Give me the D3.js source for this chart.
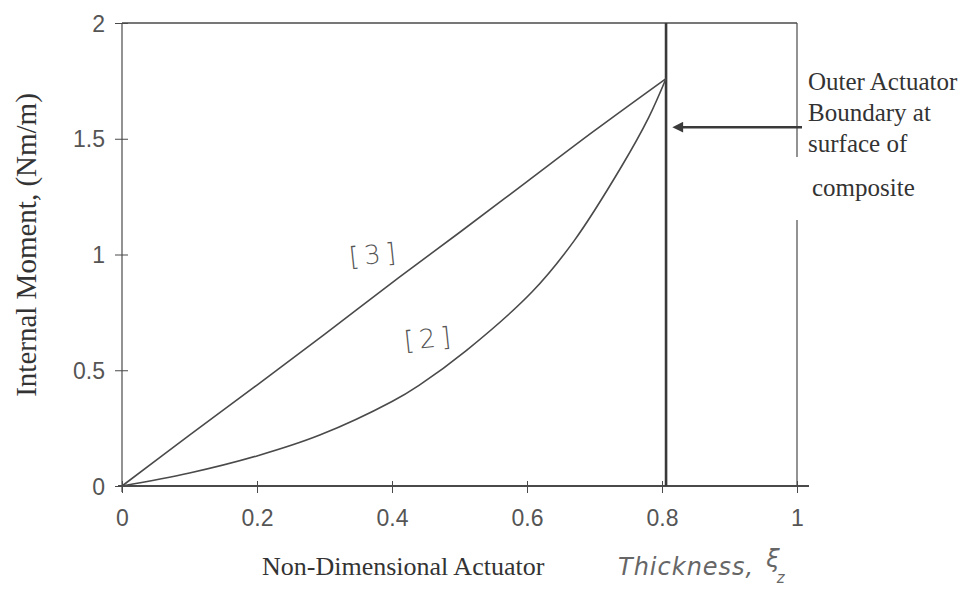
<!DOCTYPE html>
<html>
<head>
<meta charset="utf-8">
<script src="https://cdn.jsdelivr.net/npm/d3@7/dist/d3.min.js"></script>
<style>
  body { margin: 0; background: #fff; }
  svg { display: block; }
</style>
</head>
<body>
<div id="chart"></div>
<script>
// tick values
let xTicks = [0, 0.2, 0.4, 0.6, 0.8, 1];
let yTicks = [0, 0.5, 1, 1.5, 2];

// curve [3] - nearly straight
let thick3 = [0, 0.1, 0.2, 0.3, 0.41, 0.5, 0.6, 0.7, 0.806];
let moment3 = [0, 0.22, 0.436, 0.655, 0.9, 1.095, 1.315, 1.535, 1.76];

// curve [2] - concave up
let thick2 = [0, 0.1, 0.2, 0.293, 0.4, 0.44, 0.51, 0.608, 0.67, 0.74, 0.78, 0.806];
let moment2 = [0, 0.056, 0.13, 0.22, 0.365, 0.435, 0.585, 0.84, 1.06, 1.38, 1.59, 1.76];

let boundaryX = 0.806;
let arrowY = 1.55;

let w = 976;
let h = 600;
let ink = "#4a4a4a";

let svg = d3
  .select("#chart")
  .append("svg")
  .attr("width", w)
  .attr("height", h);

let x = d3.scaleLinear().domain([0, 1]).range([122, 797]);
let y = d3.scaleLinear().domain([0, 2]).range([486, 23]);

// arrow head, tip points along the line direction
svg
  .append("defs")
  .append("marker")
  .attr("id", "head")
  .attr("viewBox", "0 0 10 10")
  .attr("refX", 1)
  .attr("refY", 5)
  .attr("markerWidth", 6)
  .attr("markerHeight", 4.5)
  .attr("markerUnits", "strokeWidth")
  .attr("orient", "auto")
  .append("path")
  .attr("d", "M10,5 L0,0 L0,10 Z")
  .attr("fill", "#3a3a3a");

// frame (top + right, right edge broken where the note sits)
svg
  .append("line")
  .attr("x1", x(0)).attr("x2", x(1))
  .attr("y1", y(2)).attr("y2", y(2))
  .attr("stroke", ink).attr("stroke-width", 1.3);
svg
  .append("line")
  .attr("x1", x(1)).attr("x2", x(1))
  .attr("y1", y(2)).attr("y2", 157)
  .attr("stroke", ink).attr("stroke-width", 1.2);
svg
  .append("line")
  .attr("x1", x(1)).attr("x2", x(1))
  .attr("y1", 220).attr("y2", y(0))
  .attr("stroke", ink).attr("stroke-width", 1.2);

// axes
let sans = "Liberation Sans, Arial, sans-serif";
let xAxis = d3.axisBottom(x).tickValues(xTicks).tickSize(6).tickSizeOuter(0)
  .tickFormat(d => d === 0 || d === 1 ? d : d3.format(".1f")(d));
let gx = svg.append("g").attr("transform", "translate(0," + y(0) + ")").call(xAxis);
gx.select(".domain").attr("d", "M" + (x(0) - 4) + ",0H" + (x(1) + 12)).attr("stroke", ink).attr("stroke-width", 1.8);
gx.selectAll(".tick line").attr("y1", -5).attr("y2", 7).attr("stroke", ink);
gx.selectAll(".tick text")
  .attr("y", 32)
  .attr("dy", "0.35em")
  .attr("font-family", sans)
  .attr("font-size", 23)
  .attr("fill", "#555");

let yAxis = d3.axisLeft(y).tickValues(yTicks).tickSize(6).tickSizeOuter(0)
  .tickFormat(d3.format("~g"));
let gy = svg.append("g").attr("transform", "translate(" + x(0) + ",0)").call(yAxis);
gy.select(".domain").attr("d", "M0," + y(2) + "V" + (y(0) + 6)).attr("stroke", ink).attr("stroke-width", 1.2);
gy.selectAll(".tick line").attr("x1", -7).attr("x2", 6).attr("stroke", ink);
gy.selectAll(".tick text")
  .attr("x", -17)
  .attr("dy", "0.35em")
  .attr("font-family", sans)
  .attr("font-size", 23)
  .attr("fill", "#555");

// outer actuator boundary
svg
  .append("line")
  .attr("x1", x(boundaryX)).attr("x2", x(boundaryX))
  .attr("y1", y(2)).attr("y2", y(0))
  .attr("stroke", "#3a3a3a").attr("stroke-width", 2.6);

// curves
let line = d3.line().curve(d3.curveCatmullRom.alpha(0.5));
svg
  .append("path")
  .attr("d", line(thick3.map((d, i) => [x(d), y(moment3[i])])))
  .attr("fill", "none").attr("stroke", ink).attr("stroke-width", 1.6);
svg
  .append("path")
  .attr("d", line(thick2.map((d, i) => [x(d), y(moment2[i])])))
  .attr("fill", "none").attr("stroke", ink).attr("stroke-width", 1.6);

// arrow to boundary
svg
  .append("line")
  .attr("x1", x(1) + 5).attr("x2", x(boundaryX) + 16)
  .attr("y1", y(arrowY)).attr("y2", y(arrowY))
  .attr("stroke", "#3a3a3a").attr("stroke-width", 2.4)
  .attr("marker-end", "url(#head)");

// curve labels
let hand = "DejaVu Sans, sans-serif";
svg.append("text")
  .attr("transform", "translate(350,266) rotate(-6)")
  .attr("font-family", hand).attr("font-size", 26).attr("font-weight", 200)
  .attr("fill", "#555").attr("letter-spacing", 5)
  .text("[3]");
svg.append("text")
  .attr("transform", "translate(405,350) rotate(-6)")
  .attr("font-family", hand).attr("font-size", 26).attr("font-weight", 200)
  .attr("fill", "#555").attr("letter-spacing", 5)
  .text("[2]");

// note at right
let serif = "Liberation Serif, Times New Roman, serif";
let note = ["Outer Actuator", "Boundary at", "surface of"];
svg.append("g").selectAll("text")
  .data(note)
  .enter()
  .append("text")
  .attr("x", 808)
  .attr("y", (d, i) => 90 + i * 31)
  .attr("font-family", serif).attr("font-size", 25).attr("fill", "#333")
  .text(d => d);
svg.append("text")
  .attr("x", 812).attr("y", 196)
  .attr("font-family", serif).attr("font-size", 25).attr("fill", "#333")
  .text("composite");

// axis titles
svg.append("text")
  .attr("transform", "translate(36,245) rotate(-90)")
  .attr("text-anchor", "middle")
  .attr("font-family", serif).attr("font-size", 29).attr("fill", "#333")
  .text("Internal Moment, (Nm/m)");

svg.append("text")
  .attr("x", 262).attr("y", 575)
  .attr("font-family", serif).attr("font-size", 26).attr("fill", "#333")
  .text("Non-Dimensional Actuator");

let ht = svg.append("text")
  .attr("x", 618).attr("y", 575)
  .attr("font-family", hand).attr("font-style", "italic").attr("font-weight", 200)
  .attr("font-size", 24).attr("fill", "#666");
ht.append("tspan").attr("letter-spacing", 1).text("Thickness,");
ht.append("tspan").attr("dx", 12).attr("dy", -8).text("ξ");
ht.append("tspan").attr("font-size", 15).attr("dy", 16).attr("dx", -3).text("z");
</script>
</body>
</html>
